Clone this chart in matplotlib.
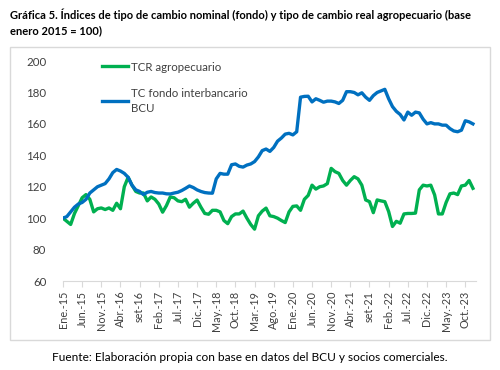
import matplotlib.pyplot as plt
from matplotlib.patches import Rectangle

plt.rcParams['font.family'] = ['Lato', 'DejaVu Sans']

# monthly series, Ene-2015 .. Dic-2023 (base enero 2015 = 100)
tcr_agro = [100, 98, 96, 103, 108, 113, 115, 112, 104, 106, 106.5, 105.5,
            106.5, 105, 109.5, 106, 120, 126, 121, 117, 116, 116, 111, 113.5,
            112, 109, 103.8, 108, 113.5, 113, 111, 110.5, 112, 107, 109.5, 111.5,
            107, 103, 102.5, 105, 105, 104, 98.5, 96.5, 101, 102.7, 102.7, 104.5,
            100, 96, 93, 101.5, 104.5, 106.4, 101.5, 101, 100, 98.5, 97.2, 104,
            107.5, 107.8, 105, 112, 114.5, 121, 118.5, 120, 120.5, 122, 131.7, 129.6,
            128.5, 124, 121, 124, 126.4, 125, 121, 111.6, 110.5, 103.5, 111.6, 111,
            110.5, 104.2, 94.7, 98, 96.8, 102.7, 103, 103, 103.2, 118, 121, 120.5,
            121, 114.8, 102.7, 102.7, 110, 115.5, 116, 115, 120.5, 121, 124, 119]
tc_fondo = [100, 101, 104, 107, 109, 110, 112, 116, 118, 120, 121, 122,
            125, 129, 131, 130, 128.5, 126, 121, 118, 117, 115, 116.5, 117,
            116.3, 116, 116, 115.5, 115.4, 116, 116.5, 117.6, 119, 120.5, 119.5, 118,
            117, 116.3, 116, 115.9, 125, 128.5, 128, 128, 134, 134.5, 133, 132.5,
            133.8, 134.5, 136, 139, 143, 144, 142.5, 145, 149, 151, 153.5, 154,
            153, 155, 177, 177.5, 177.6, 174, 176, 175, 173.8, 174.5, 174.5, 174,
            173, 175, 180.5, 180.5, 180, 178.5, 179.8, 177, 175, 178, 180, 181,
            182, 176, 171, 168, 166, 162.5, 167.5, 165.5, 167.5, 167, 163, 160,
            160.8, 160, 160, 159.2, 159.2, 157, 155.5, 155, 156, 162, 161.3, 160]

tick_labels = ['Ene.-15', 'Jun.-15', 'Nov.-15', 'Abr.-16', 'set-16', 'Feb.-17',
               'Jul.-17', 'Dic.-17', 'May.-18', 'Oct.-18', 'Mar.-19', 'Ago.-19',
               'Ene.-20', 'Jun.-20', 'Nov.-20', 'Abr.-21', 'set-21', 'Feb.-22',
               'Jul.-22', 'Dic.-22', 'May.-23', 'Oct.-23']

fig = plt.figure(figsize=(5, 3.7), dpi=100)
ax = fig.add_axes([0.126, 0.2405, 0.826, 0.5945])

x = list(range(len(tcr_agro)))
ax.plot(x, tcr_agro, color='#00B050', lw=2.4, label='TCR agropecuario')
ax.plot(x, tc_fondo, color='#0070C0', lw=2.4, label='TC fondo interbancario\nBCU')

ax.set_ylim(60, 200)
ax.set_yticks(range(60, 201, 20))
ax.set_xlim(0, 107.8)
ax.set_xticks(range(0, 106, 5))
ax.set_xticklabels(tick_labels, rotation=90, fontsize=7.8, color='#404040')
ax.tick_params(axis='y', length=0, labelsize=8.3, colors='#404040', pad=12)
ax.tick_params(axis='x', length=4, color='#d9d9d9', pad=3)
for s in ['top', 'right', 'left']:
    ax.spines[s].set_visible(False)
ax.spines['bottom'].set_color('#d9d9d9')

leg = ax.legend(loc='upper left', bbox_to_anchor=(0.07, 1.045), frameon=False,
                fontsize=8.3, handlelength=2.2, labelspacing=1.3, handletextpad=0.3)
for t in leg.get_texts():
    t.set_color('#404040')
    t.set_linespacing(1.5)

fig.patches.append(Rectangle((10 / 500, 30 / 370), 480 / 500, 293 / 370,
                             transform=fig.transFigure, fill=False,
                             edgecolor='#d9d9d9', lw=1))

fig.text(0.02, 0.978, 'Gráfica 5. Índices de tipo de cambio nominal (fondo) y tipo de cambio real agropecuario (base\nenero 2015 = 100)',
         fontsize=8.0, fontweight='bold', va='top', ha='left', linespacing=1.45)
fig.text(0.5, 0.035, 'Fuente: Elaboración propia con base en datos del BCU y socios comerciales.',
         fontsize=8.6, ha='center', va='center')

fig.savefig('out.png', dpi=100)
